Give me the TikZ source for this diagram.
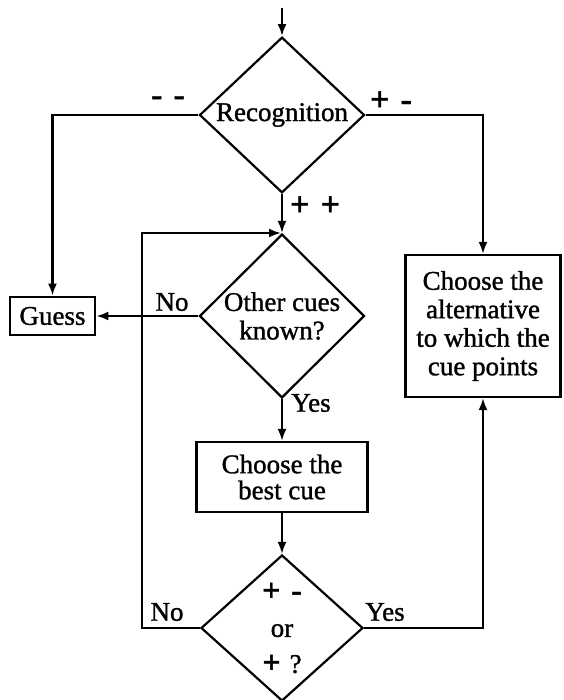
\documentclass[tikz,border=0pt]{standalone}
\usepackage{fontspec}
\setmainfont[FakeBold=1.2]{Liberation Serif}
\usetikzlibrary{shapes.geometric,arrows.meta}
\begin{document}
\begin{tikzpicture}[x=1pt,y=-1pt,
  every node/.style={font=\fontsize{27}{28.5}\selectfont},
  line/.style={line width=2.2pt},
  arrow/.style={line, -{Latex[length=12pt,width=9pt]}},
  decision/.style={draw, line width=2.2pt, diamond, inner sep=0pt, align=center},
  stepbox/.style={draw, line width=2.2pt, rectangle, inner sep=0pt, align=center},
  lbl/.style={inner sep=0pt},
  sign/.style={inner sep=0pt, font=\fontsize{34}{34}\bfseries}]
\useasboundingbox (0,0) rectangle (563,700);

% decisions
\node[decision, minimum width=165pt, minimum height=152pt] (rec) at (282,115) {Recognition};
\node[decision, minimum width=165pt, minimum height=148pt] (oc) at (282,316) {Other cues\\known?};
\node[decision, minimum width=162pt, minimum height=146pt,
      font=\fontsize{27}{36}\selectfont] (bd) at (282,628)
  {{\fontsize{32}{36}\bfseries +\,\,-}\\or\\{\fontsize{32}{36}\bfseries +}\,\,?};

% actions
\node[stepbox, line width=2.8pt, minimum width=85pt, minimum height=38pt] (guess) at (52.5,316) {Guess};
\node[stepbox, minimum width=155pt, minimum height=142pt] (alt) at (483,326)
  {Choose the\\alternative\\to which the\\cue points};
\node[stepbox, minimum width=171pt, minimum height=70pt,
      font=\fontsize{27}{26}\selectfont] (best) at (282,477) {Choose the\\best cue};

% entry point
\coordinate (start) at (282,8);
\coordinate (loop) at (142,628);
\draw[arrow] (start) -- (rec.north);

% recognition outcomes
\draw[arrow] (rec.west) -| (guess.north);
\draw[arrow] (rec.east) -| (alt.north);
\draw[arrow] (rec.south) -- (oc.north);

% cue search
\draw[arrow] (oc.west) -- (guess.east);
\draw[arrow] (oc.south) -- (best.north);
\draw[arrow] (best.south) -- (bd.north);
\draw[arrow] (bd.west) -- (loop) |- ([xshift=-1pt]oc.north);
\draw[arrow] (bd.east) -| (alt.south);

% branch labels
\node[sign] (mm) at (168,101) {-\,\,-};
\node[sign] (pm) at (391,101) {+\,\,-};
\node[sign] (pp) at (315,206) {+\,\,+};
\node[lbl] (no1) at (172,302) {No};
\node[lbl] (yes1) at (311,403) {Yes};
\node[lbl] (no2) at (167,612) {No};
\node[lbl] (yes2) at (385,612) {Yes};
\end{tikzpicture}
\end{document}
